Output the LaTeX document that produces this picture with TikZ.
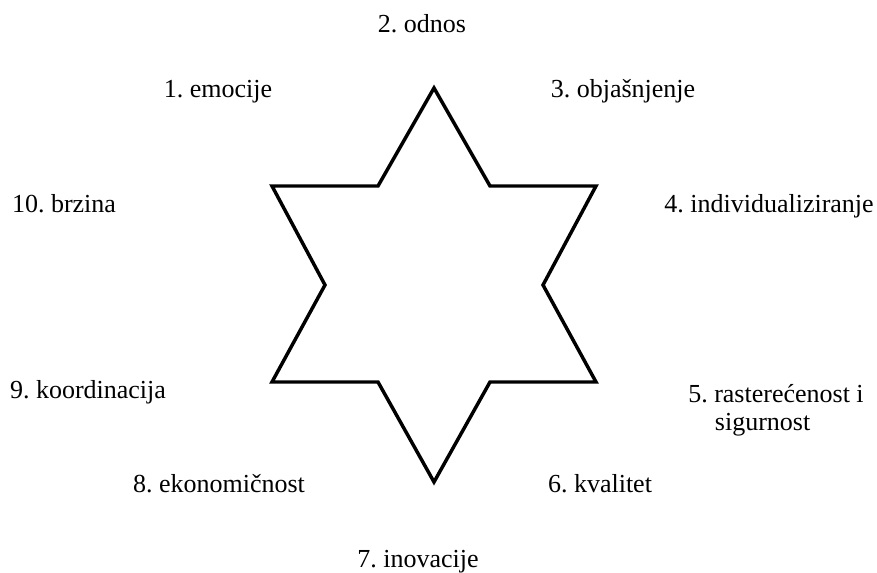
\documentclass[tikz,border=0pt]{standalone}
\usepackage{fontspec}
\setmainfont{Liberation Serif}
\frenchspacing

\begin{document}
\begin{tikzpicture}[
    x=0.75pt, y=-0.75pt,
    font=\fontsize{19.5}{21}\selectfont,
    label/.style={anchor=base, inner sep=0pt},
    star/.style={draw=black, line width=2.6pt, line join=miter}
]
\useasboundingbox (0,0) rectangle (877,573);

% star
\draw[star] (434,88) -- (490,186) -- (596,186) -- (543,285) -- (596,382) -- (490,382)
    -- (434,482) -- (378,382) -- (272,382) -- (325,285) -- (272,186) -- (378,186) -- cycle;

\node[label] (odnos) at (422,33) {2. odnos};
\node[label] (emocije) at (218,98) {1. emocije};
\node[label] (objasnjenje) at (623,98) {3. objašnjenje};
\node[label] (brzina) at (64,213) {10. brzina};
\node[label] (individual) at (769,213) {4. individualiziranje};
\node[label] (koordinacija) at (88,398) {9. koordinacija};
\node[label, anchor=base west, align=left, font=\fontsize{19.5}{21}\selectfont] (rasterecenost) at (688,430)
    {5. rasterećenost i\\\hspace*{20pt}sigurnost};
\node[label] (ekonomicnost) at (219,492) {8. ekonomičnost};
\node[label] (kvalitet) at (600,492) {6. kvalitet};
\node[label] (inovacije) at (418,567) {7. inovacije};

\end{tikzpicture}
\end{document}
